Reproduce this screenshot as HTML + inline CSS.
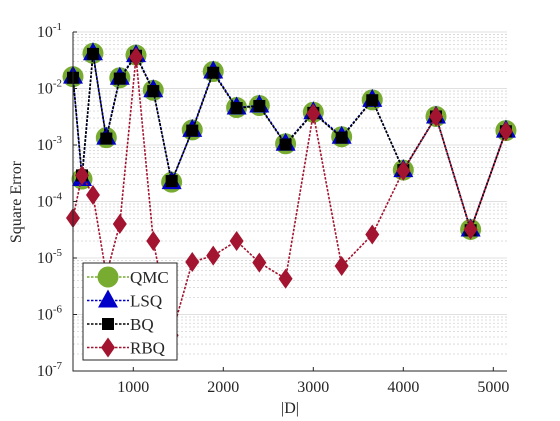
<!DOCTYPE html>
<html><head><meta charset="utf-8"><style>
html,body{margin:0;padding:0;background:#fff;}
svg{display:block;font-family:"Liberation Serif",serif;}
</style></head><body>
<svg id="chart" width="560" height="421" viewBox="0 0 560 421" xmlns="http://www.w3.org/2000/svg">
<rect width="560" height="421" fill="#fff"/>
<g id="grid"></g>
<g id="series"></g>
<g id="axes"></g>
<text transform="translate(21,202) rotate(-90)" text-anchor="middle" font-size="16" fill="#262626">Square Error</text>
<text x="290" y="413" text-anchor="middle" font-size="16" fill="#262626">|D|</text>
<g id="legend"></g>
</svg>
<script>
const sizes=[330,430,552,700,850,1030,1222,1426,1655,1888,2148,2400,2692,3000,3315,3655,4000,4363,4748,5140];
const qmc=[0.0162,2.5e-4,0.042,1.35e-3,0.0155,0.039,9.3e-3,2.2e-4,1.85e-3,0.02,4.6e-3,5.0e-3,1.05e-3,3.8e-3,1.4e-3,6.3e-3,3.6e-4,3.2e-3,3.2e-5,1.8e-3];
const lsq=[0.0162,2.5e-4,0.042,1.35e-3,0.0155,0.039,9.3e-3,2.2e-4,1.85e-3,0.02,4.6e-3,5.0e-3,1.05e-3,3.8e-3,1.4e-3,6.3e-3,3.6e-4,3.2e-3,3.2e-5,1.8e-3];
const bq=[0.0155,2.9e-4,0.041,1.3e-3,0.015,0.038,9.0e-3,2.3e-4,1.8e-3,0.019,4.5e-3,4.9e-3,1.02e-3,3.7e-3,1.35e-3,6.2e-3,3.6e-4,3.2e-3,3.1e-5,1.75e-3];
const rbq=[5.1e-5,2.9e-4,1.3e-4,5e-6,4e-5,0.036,2e-5,4.3e-7,8.5e-6,1.1e-5,2e-5,8.3e-6,4.3e-6,3.6e-3,7.2e-6,2.6e-5,3.5e-4,3.2e-3,3.2e-5,1.75e-3];
const xTicks=[1000,2000,3000,4000,5000];
const yExps=[-7,-6,-5,-4,-3,-2,-1];

const L=73,R=507,T=32,B=371,XMIN=330,XMAX=5152;
const NS="http://www.w3.org/2000/svg";
function xs(v){return L+(v-XMIN)/(XMAX-XMIN)*(R-L);}
function ys(v){return T+(-1-Math.log10(v))/6*(B-T);}
function mk(tag,attrs,parent){const e=document.createElementNS(NS,tag);for(const k in attrs)e.setAttribute(k,attrs[k]);parent.appendChild(e);return e;}
const grid=document.getElementById('grid'),axes=document.getElementById('axes'),series=document.getElementById('series'),legend=document.getElementById('legend');

for(let e=-7;e<-1;e++){for(let m=2;m<=9;m++){const y=ys(m*Math.pow(10,e));
 const g=mk('line',{x1:L,x2:R,y1:y,y2:y,stroke:'#d4d4d4','stroke-width':0.8,'stroke-dasharray':'2,2'},grid);
 
 }}
yExps.forEach(e=>{const y=ys(Math.pow(10,e));
 const g=mk('line',{x1:L,x2:R,y1:y,y2:y,stroke:'#e0e0e0','stroke-width':1},grid);
 
 
 const t=mk('text',{x:62,y:y+5,'text-anchor':'end','font-size':16,fill:'#262626'},axes);
 
 
 t.textContent='10';
 const s=mk('tspan',{dy:-7,'font-size':11},t);s.textContent=String(e);
 const tk=mk('line',{x1:L,x2:L+4,y1:y,y2:y,stroke:'#262626'},axes);
 
 });
xTicks.forEach(v=>{const x=xs(v);
 const t=mk('text',{x:x,y:392,'text-anchor':'middle','font-size':16,fill:'#262626'},axes);
 
 
 t.textContent=v;
 const tk=mk('line',{x1:x,x2:x,y1:B,y2:B-4,stroke:'#262626'},axes);
 
 });
const ax=mk('path',{d:`M${L},${T}V${B}H${R}`,fill:'none',stroke:'#262626','stroke-width':1},axes);



function marker(type,x,y,color,parent){
 if(type==='circle')return mk('circle',{cx:x,cy:y,r:10.5,fill:color},parent);
 if(type==='tri')return mk('path',{d:`M${x},${y-11}L${x+10},${y+7}L${x-10},${y+7}Z`,fill:color},parent);
 if(type==='sq')return mk('rect',{x:x-6,y:y-6,width:12,height:12,fill:color},parent);
 return mk('path',{d:`M${x},${y-10}L${x+7},${y}L${x},${y+10}L${x-7},${y}Z`,fill:color},parent);
}
const defs=[['qmc',qmc,'#77ac30','circle'],['lsq',lsq,'#0000c8','tri'],['bq',bq,'#000','sq'],['rbq',rbq,'#a2142f','dia']];
defs.forEach(([n,vals,c,t])=>{
 const g=mk('g',{},series);
 
 
 const d=vals.map((v,i)=>(i?'L':'M')+xs(sizes[i]).toFixed(1)+','+ys(v).toFixed(1)).join('');
 const p=mk('path',{d:d,fill:'none',stroke:c,'stroke-width':1.6,'stroke-dasharray':'2.5,1.5'},g);
 
 
 vals.forEach((v,i)=>{const m=marker(t,xs(sizes[i]),ys(v),c,g);
  
  });
});
const lb=mk('rect',{x:83,y:263,width:94,height:97,fill:'#fff',stroke:'#262626','stroke-width':1},legend);


defs.forEach(([n,vals,c,t],i)=>{const y=277+i*23.5;
 const g=mk('g',{},legend);
 
 
 mk('line',{x1:87,x2:129,y1:y,y2:y,stroke:c,'stroke-width':1.6,'stroke-dasharray':'2.5,1.5'},g);
 marker(t,108,y,c,g);
 const tx=mk('text',{x:130,y:y+6,'font-size':17,fill:'#262626'},g);
 tx.textContent=n.toUpperCase();});
</script>
</body></html>
